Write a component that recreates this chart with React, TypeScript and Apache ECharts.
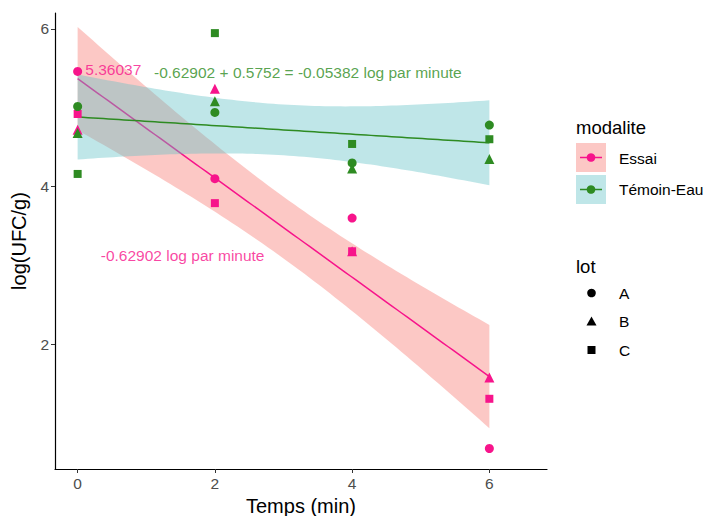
import React, { useEffect, useRef } from "react";
import * as echarts from "echarts";

// ---- data ----
const times = [0, 2, 4, 6];
const essaiA = [5.46, 4.1, 3.6, 0.68];
const essaiB = [4.72, 5.24, 3.18, 1.58];
const essaiC = [4.92, 3.79, 3.18, 1.31];
const temoinA = [5.015, 4.94, 4.3, 4.78];
const temoinB = [4.68, 5.08, 4.23, 4.35];
const temoinC = [4.16, 5.945, 4.54, 4.6];
const modalites = ["Essai", "Témoin-Eau"];
const lots = ["A", "B", "C"];
const xTicks = [0, 2, 4, 6];
const yTicks = [2, 4, 6];
const annotTexts = ["5.36037", "-0.62902 + 0.5752 = -0.05382 log par minute", "-0.62902 log par minute"];
const annotX = [0.52, 3.355, 1.53];
const annotY = [5.49, 5.44, 3.13];

const PINK = "#F7148B";
const GREEN = "#2E8B22";
const FILL_PINK = "#F8766D";
const FILL_TEAL = "#5FC0C5";
const FONT = "Liberation Sans, Arial, sans-serif";

function fitBand(groups: number[][]) {
  const xs: number[] = [];
  const ys: number[] = [];
  groups.forEach((g) => g.forEach((v, i) => { xs.push(times[i]); ys.push(v); }));
  const n = xs.length;
  const xbar = xs.reduce((a, b) => a + b, 0) / n;
  const ybar = ys.reduce((a, b) => a + b, 0) / n;
  let sxx = 0, sxy = 0;
  xs.forEach((x, i) => { sxx += (x - xbar) ** 2; sxy += (x - xbar) * (ys[i] - ybar); });
  const slope = sxy / sxx;
  const inter = ybar - slope * xbar;
  let sse = 0;
  xs.forEach((x, i) => { sse += (ys[i] - inter - slope * x) ** 2; });
  const s = Math.sqrt(sse / (n - 2));
  const t = 2.2281; // t(0.975, df=10)
  const upper: number[][] = [];
  const lower: number[][] = [];
  const line: number[][] = [];
  const steps = 80;
  for (let k = 0; k <= steps; k++) {
    const x = times[0] + ((times[times.length - 1] - times[0]) * k) / steps;
    const yh = inter + slope * x;
    const se = s * Math.sqrt(1 / n + (x - xbar) ** 2 / sxx);
    upper.push([x, yh + t * se]);
    lower.push([x, yh - t * se]);
    line.push([x, yh]);
  }
  return { upper, lower, line };
}

export default function App() {
  const ref = useRef<HTMLDivElement>(null);
  useEffect(() => {
    document.body.style.margin = "0";
    const chart = echarts.init(ref.current!, undefined, { renderer: "svg" });
    const essai = fitBand([essaiA, essaiB, essaiC]);
    const temoin = fitBand([temoinA, temoinB, temoinC]);
    const symbols = ["circle", "triangle", "rect"];
    const sizes = [9, 10, 8];
    const groups = [
      { name: modalites[0], color: PINK, fill: FILL_PINK, fit: essai, sets: [essaiA, essaiB, essaiC] },
      { name: modalites[1], color: GREEN, fill: FILL_TEAL, fit: temoin, sets: [temoinA, temoinB, temoinC] },
    ];
    const series: any[] = [];
    groups.forEach((g, i) => {
      series.push({
        type: "custom",
        name: "band" + i,
        z: 1 + i * 2,
        data: [[0, 0]],
        renderItem: (_p: any, api: any) => {
          const pts = g.fit.upper.map((p) => api.coord(p)).concat(
            g.fit.lower.slice().reverse().map((p) => api.coord(p))
          );
          return { type: "polygon", shape: { points: pts }, style: { fill: g.fill, opacity: 0.4 } };
        },
        silent: true,
      });
      series.push({
        type: "line",
        z: 2 + i * 2,
        data: g.fit.line,
        showSymbol: false,
        lineStyle: { color: g.color, width: 1.5 },
        silent: true,
      });
    });
    groups.forEach((g) => {
      g.sets.forEach((vals, li) => {
        series.push({
          type: "scatter",
          z: 6,
          name: g.name + " " + lots[li],
          symbol: symbols[li],
          symbolSize: sizes[li],
          itemStyle: { color: g.color, opacity: 1 },
          data: vals.map((v, i) => [times[i], v]),
        });
      });
    });
    const annotColors = [PINK, GREEN, PINK];
    series.push({
      type: "scatter",
      z: 7,
      symbolSize: 0,
      silent: true,
      data: annotTexts.map((txt, i) => ({
        value: [annotX[i], annotY[i]],
        label: {
          show: true,
          position: "inside",
          formatter: txt,
          color: annotColors[i],
          fontSize: 15.5,
          fontFamily: FONT,
        },
      })),
    });

    const legendG: any[] = [];
    const txt = (s: string, x: number, y: number, size: number) => ({
      type: "text",
      x,
      y,
      style: { text: s, fontSize: size, fontFamily: FONT, fill: "#000", verticalAlign: "middle", align: "left" },
    });
    legendG.push(txt("modalite", 576, 127, 18.5));
    const keyLine = [PINK, GREEN];
    const keyFill = [FILL_PINK, FILL_TEAL];
    const labelY = [158, 189];
    modalites.forEach((m, i) => {
      const y0 = 143 + i * 32;
      legendG.push({ type: "rect", shape: { x: 576, y: y0, width: 30, height: 29 }, style: { fill: keyFill[i], opacity: 0.4 } });
      legendG.push({ type: "line", shape: { x1: 580, y1: y0 + 14.5, x2: 602, y2: y0 + 14.5 }, style: { stroke: keyLine[i], lineWidth: 1.5 } });
      legendG.push({ type: "circle", shape: { cx: 591, cy: y0 + 14.5, r: 4.3 }, style: { fill: keyLine[i] } });
      legendG.push(txt(m, 619, labelY[i], 15.5));
    });
    legendG.push(txt("lot", 576, 266, 18.5));
    lots.forEach((l, i) => {
      const cy = 293 + i * 28.5;
      if (i === 0) legendG.push({ type: "circle", shape: { cx: 591.5, cy, r: 4.3 }, style: { fill: "#000" } });
      if (i === 1) legendG.push({ type: "polygon", shape: { points: [[591.5, cy - 5], [596.5, cy + 4], [586.5, cy + 4]] }, style: { fill: "#000" } });
      if (i === 2) legendG.push({ type: "rect", shape: { x: 587.5, y: cy - 4, width: 8, height: 8 }, style: { fill: "#000" } });
      legendG.push(txt(l, 619, cy, 15.5));
    });

    chart.setOption({
      animation: false,
      backgroundColor: "#fff",
      textStyle: { fontFamily: FONT },
      grid: { left: 55, right: 158, top: 13, bottom: 47, containLabel: false, outerBoundsMode: "none" },
      xAxis: {
        type: "value",
        min: -0.33,
        max: 6.84,
        name: "Temps (min)",
        nameLocation: "middle",
        nameGap: 26,
        nameTextStyle: { fontSize: 20, color: "#000", fontFamily: FONT },
        axisLine: { show: true, onZero: false, lineStyle: { color: "#000", width: 1.2 } },
        axisTick: { show: true, customValues: xTicks, length: 4, lineStyle: { color: "#333" } },
        axisLabel: { customValues: xTicks, color: "#4D4D4D", fontSize: 15.5, margin: 6, fontFamily: FONT },
        splitLine: { show: false },
      },
      yAxis: {
        type: "value",
        min: 0.42,
        max: 6.2,
        name: "log(UFC/g)",
        nameLocation: "middle",
        nameGap: 24,
        nameRotate: 90,
        nameTextStyle: { fontSize: 20, color: "#000", fontFamily: FONT },
        axisLine: { show: true, onZero: false, lineStyle: { color: "#000", width: 1.2 } },
        axisTick: { show: true, customValues: yTicks, length: 4, lineStyle: { color: "#333" } },
        axisLabel: { customValues: yTicks, color: "#4D4D4D", fontSize: 15.5, margin: 6, fontFamily: FONT },
        splitLine: { show: false },
      },
      graphic: legendG,
      series,
    });
    return () => chart.dispose();
  }, []);
  return <div ref={ref} style={{ width: 705, height: 516 }} />;
}
